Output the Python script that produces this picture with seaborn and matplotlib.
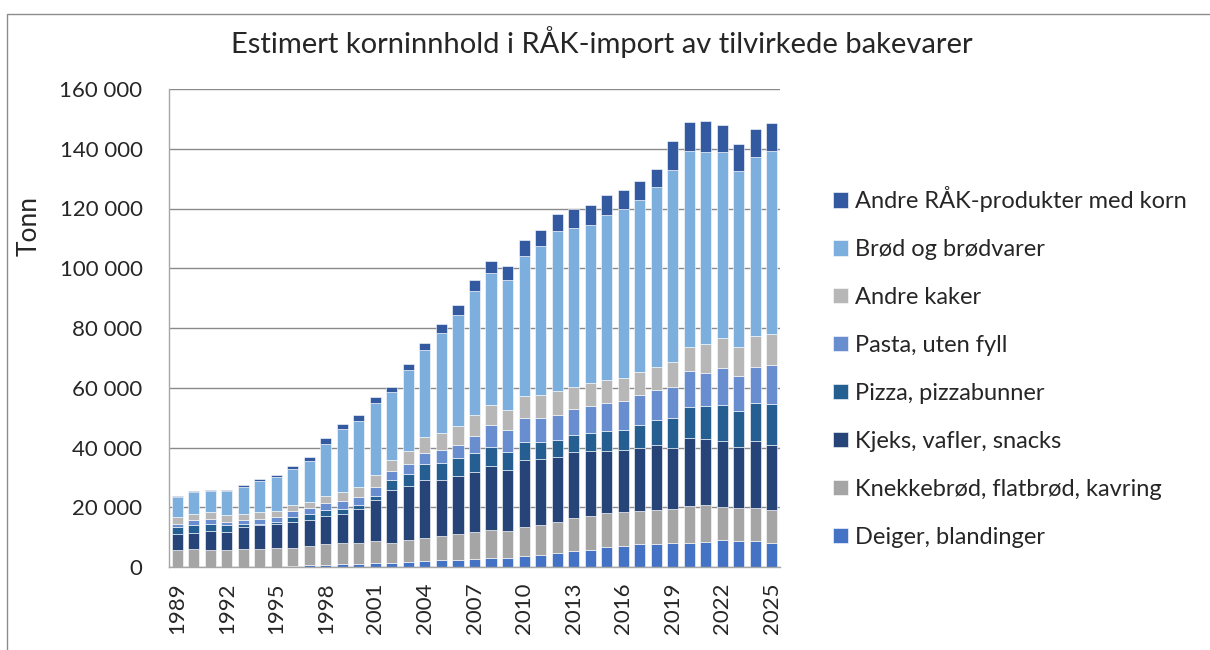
import numpy as np
import pandas as pd
import matplotlib.pyplot as plt
import seaborn as sns
from matplotlib.patches import Rectangle
from matplotlib.ticker import FuncFormatter

# Years on the x axis
years = list(range(1989, 2026))

# Estimated grain content per product group, in 1000 tonnes
deiger = [0, 0, 0, 0, 0, 0, 0, 0.4, 0.7, 0.8, 1.0, 1.0, 1.3, 1.3, 1.6, 2.1, 2.2, 2.5, 2.8,
          3.1, 3.0, 3.6, 4.0, 4.7, 5.4, 5.8, 6.7, 7.1, 7.7, 7.7, 8.1, 8.1, 8.5, 8.9, 8.8, 8.8, 8.1]
knekkebrod = [5.6, 5.9, 5.6, 5.6, 6.1, 5.9, 6.5, 6.1, 6.2, 6.8, 6.9, 7.0, 7.3, 6.9, 7.4, 7.7, 8.3, 8.4, 8.8,
              9.4, 9.1, 9.9, 10.0, 10.5, 11.1, 11.3, 11.4, 11.4, 11.2, 11.3, 11.4, 12.3, 12.2, 11.3, 10.8, 11.1, 11.0]
kjeks = [5.3, 5.6, 6.4, 6.2, 7.2, 8.1, 8.0, 8.7, 8.8, 9.4, 9.7, 11.3, 13.7, 17.7, 18.1, 19.2, 18.7, 19.5, 20.1,
         21.3, 20.3, 22.3, 22.1, 21.6, 22.0, 21.6, 20.7, 20.6, 21.1, 21.9, 20.2, 22.8, 22.1, 22.1, 20.5, 22.4, 21.8]
pizza = [2.6, 2.5, 2.5, 2.1, 1.0, 0.5, 0.7, 1.5, 2.2, 2.1, 1.7, 1.4, 1.6, 3.1, 3.9, 5.4, 5.6, 6.1, 6.4,
         6.3, 6.0, 6.0, 5.7, 5.6, 5.6, 6.1, 6.7, 6.7, 7.5, 8.3, 10.1, 10.3, 11.0, 11.9, 12.1, 12.6, 13.8]
pasta = [1.0, 1.6, 1.4, 1.0, 1.3, 1.4, 1.6, 1.9, 1.9, 2.4, 2.7, 2.6, 3.0, 3.0, 3.5, 3.7, 4.4, 4.3, 5.8,
         7.4, 7.6, 8.0, 8.0, 8.4, 8.8, 9.1, 9.5, 9.8, 10.1, 9.9, 10.5, 12.2, 11.3, 12.4, 11.7, 12.1, 13.0]
andre_kaker = [2.2, 2.2, 2.4, 2.5, 2.2, 2.6, 2.0, 2.1, 2.1, 2.4, 3.1, 3.5, 4.0, 3.9, 4.3, 5.4, 5.7, 6.4, 6.9,
               6.8, 6.7, 7.4, 7.9, 8.2, 7.5, 7.6, 7.5, 7.6, 7.6, 7.8, 8.3, 7.9, 9.4, 9.9, 9.7, 10.2, 10.3]
brod = [6.6, 7.2, 7.3, 8.0, 9.1, 10.2, 11.3, 12.1, 13.6, 17.4, 21.0, 22.2, 24.0, 22.7, 27.0, 29.3, 33.5, 37.3, 41.7,
        44.2, 43.4, 47.0, 49.9, 53.4, 53.1, 53.0, 55.3, 56.5, 57.8, 60.4, 64.3, 65.6, 64.5, 62.3, 58.9, 60.1, 61.3]
andre_rak = [0.6, 0.5, 0.3, 0.4, 0.6, 0.6, 0.8, 0.9, 1.4, 2.0, 1.9, 1.8, 1.9, 1.6, 2.0, 2.3, 2.8, 3.3, 3.7,
             4.0, 4.7, 5.4, 5.2, 5.8, 6.4, 6.8, 6.6, 6.6, 6.1, 6.0, 9.6, 9.8, 10.3, 9.1, 9.2, 9.3, 9.4]

# Legend order, top to bottom (stack order is the reverse)
series = {
    "Andre RÅK-produkter med korn": andre_rak,
    "Brød og brødvarer": brod,
    "Andre kaker": andre_kaker,
    "Pasta, uten fyll": pasta,
    "Pizza, pizzabunner": pizza,
    "Kjeks, vafler, snacks": kjeks,
    "Knekkebrød, flatbrød, kavring": knekkebrod,
    "Deiger, blandinger": deiger,
}
colors = ["#335AA1", "#7CAFDD", "#B7B7B7", "#698ED0",
          "#255E91", "#264478", "#A5A5A5", "#4472C4"]
palette = dict(zip(series.keys(), colors))

df = pd.DataFrame([
    {"year": y, "product": name, "tonn": v * 1000}
    for name, vals in series.items()
    for y, v in zip(years, vals)
])

sns.set_style("white")
plt.rcParams["font.family"] = ["Lato", "DejaVu Sans"]

fig = plt.figure(figsize=(12.1, 6.5), dpi=100)
ax = fig.add_axes([169 / 1210, 1 - 567 / 650, 611 / 1210, 478 / 650])

sns.histplot(data=df, x="year", weights="tonn", hue="product",
             hue_order=list(series.keys()), palette=palette,
             multiple="stack", discrete=True, shrink=0.67,
             alpha=1, edgecolor="white", linewidth=0.4, ax=ax)

ax.set_xlim(1988.5, 2025.5)
ax.set_ylim(0, 160000)
ax.set_yticks(np.arange(0, 160001, 20000))
ax.yaxis.set_major_formatter(FuncFormatter(lambda v, p: f"{int(v):,}".replace(",", " ")))
ax.set_xticks(range(1989, 2026, 3))
ax.tick_params(axis="y", length=0, pad=19, labelsize=16)
ax.tick_params(axis="x", length=0, pad=11, labelsize=16, rotation=90)

ax.grid(axis="y", color="#8a8a8a", linewidth=1.0)
ax.set_axisbelow(True)
for s in ["top", "right"]:
    ax.spines[s].set_visible(False)
for s in ["left", "bottom"]:
    ax.spines[s].set_color("#a6a6a6")
    ax.spines[s].set_linewidth(1.0)

ax.set_xlabel("")
ax.set_ylabel("Tonn", fontsize=19)
ax.yaxis.set_label_coords(-0.208, 0.713)

sns.move_legend(ax, loc="center left", bbox_to_anchor=(833 / 1210, 1 - 367 / 650),
                bbox_transform=fig.transFigure, frameon=False, title=None,
                fontsize=17, handlelength=0.62, handleheight=0.62,
                handletextpad=0.3, labelspacing=1.14, borderpad=0, borderaxespad=0)

fig.suptitle("Estimert korninnhold i RÅK-import av tilvirkede bakevarer",
             x=0.497, y=1 - 42 / 650, va="center", fontsize=21)

# Chart area border
fig.add_artist(Rectangle((7 / 1210, -0.02), 1.02, 0.999, transform=fig.transFigure,
                         fill=False, edgecolor="#8c8c8c", linewidth=1.0))

fig.savefig("out.png", dpi=100)
